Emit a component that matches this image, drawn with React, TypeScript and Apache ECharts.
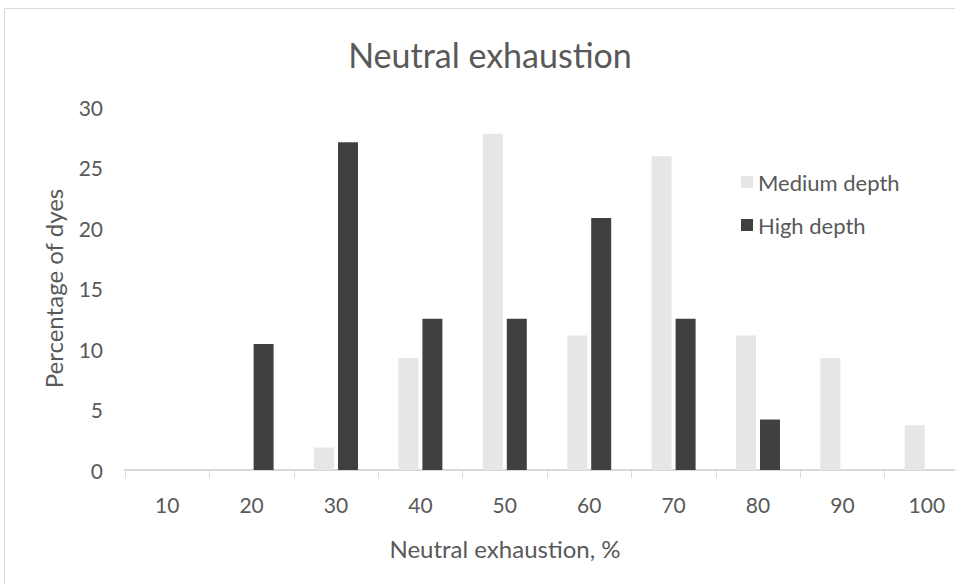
import React, { useEffect, useRef } from "react";
import * as echarts from "echarts";

// Neutral exhaustion buckets (%), share of dyes in each bucket
const categories = ["10", "20", "30", "40", "50", "60", "70", "80", "90", "100"];
const mediumDepth = [0, 0, 1.85, 9.26, 27.78, 11.11, 25.93, 11.11, 9.26, 3.7];
const highDepth = [0, 10.42, 27.08, 12.5, 12.5, 20.83, 12.5, 4.17, 0, 0];

const FONT = "Lato, 'Open Sans', sans-serif";
const TEXT = "#595959";
const AXIS = "#d9d9d9";

export default function App() {
  const ref = useRef<HTMLDivElement>(null);

  useEffect(() => {
    if (!ref.current) return;
    const chart = echarts.init(ref.current, undefined, { renderer: "svg" });
    chart.setOption({
      animation: false,
      backgroundColor: "#ffffff",
      textStyle: { fontFamily: FONT, color: TEXT },
      graphic: [
        {
          type: "rect",
          shape: { x: 4.5, y: 8.5, width: 1100, height: 1000 },
          style: { fill: "none", stroke: AXIS, lineWidth: 1 },
          silent: true,
        },
        {
          type: "text",
          x: 505,
          y: 548,
          style: {
            text: "Neutral exhaustion, %",
            fontFamily: FONT,
            fontSize: 24,
            fill: TEXT,
            align: "center",
            verticalAlign: "middle",
          },
          silent: true,
        },
      ],
      title: {
        text: "Neutral exhaustion",
        left: 485,
        textAlign: "center",
        top: 32,
        textStyle: { fontFamily: FONT, fontSize: 34, fontWeight: "normal", color: TEXT },
      },
      legend: {
        orient: "vertical",
        left: 736,
        top: 166,
        itemWidth: 12,
        itemHeight: 12,
        itemGap: 21,
        icon: "rect",
        textStyle: { fontFamily: FONT, fontSize: 22, color: TEXT, lineHeight: 22, padding: [0, 0, 0, 0] },
        data: ["Medium depth", "High depth"],
      },
      grid: { left: 125, top: 107, width: 844, height: 363, containLabel: false },
      xAxis: {
        type: "category",
        data: categories,
        axisLine: { lineStyle: { color: AXIS, width: 2 } },
        axisTick: { show: true, length: 8, lineStyle: { color: AXIS, width: 1 } },
        axisLabel: { fontFamily: FONT, fontSize: 21, color: TEXT, margin: 24 },
      },
      yAxis: {
        type: "value",
        min: 0,
        max: 30,
        interval: 5,
        name: "Percentage of dyes",
        nameLocation: "middle",
        nameGap: 60,
        nameRotate: 90,
        nameTextStyle: { fontFamily: FONT, fontSize: 24, color: TEXT },
        axisLine: { show: false },
        axisTick: { show: false },
        splitLine: { show: false },
        axisLabel: { fontFamily: FONT, fontSize: 21, color: TEXT, margin: 22 },
      },
      series: [
        {
          name: "Medium depth",
          type: "bar",
          data: mediumDepth,
          barWidth: 20,
          barGap: "20%",
          itemStyle: { color: "#e7e6e6" },
        },
        {
          name: "High depth",
          type: "bar",
          data: highDepth,
          barWidth: 20,
          barGap: "20%",
          itemStyle: { color: "#404040" },
        },
      ],
    });
    return () => chart.dispose();
  }, []);

  return (
    <div
      style={{
        position: "absolute",
        left: 0,
        top: 0,
        width: 955,
        height: 584,
        overflow: "hidden",
        background: "#ffffff",
      }}
    >
      <div ref={ref} style={{ width: 1000, height: 584 }} />
    </div>
  );
}
